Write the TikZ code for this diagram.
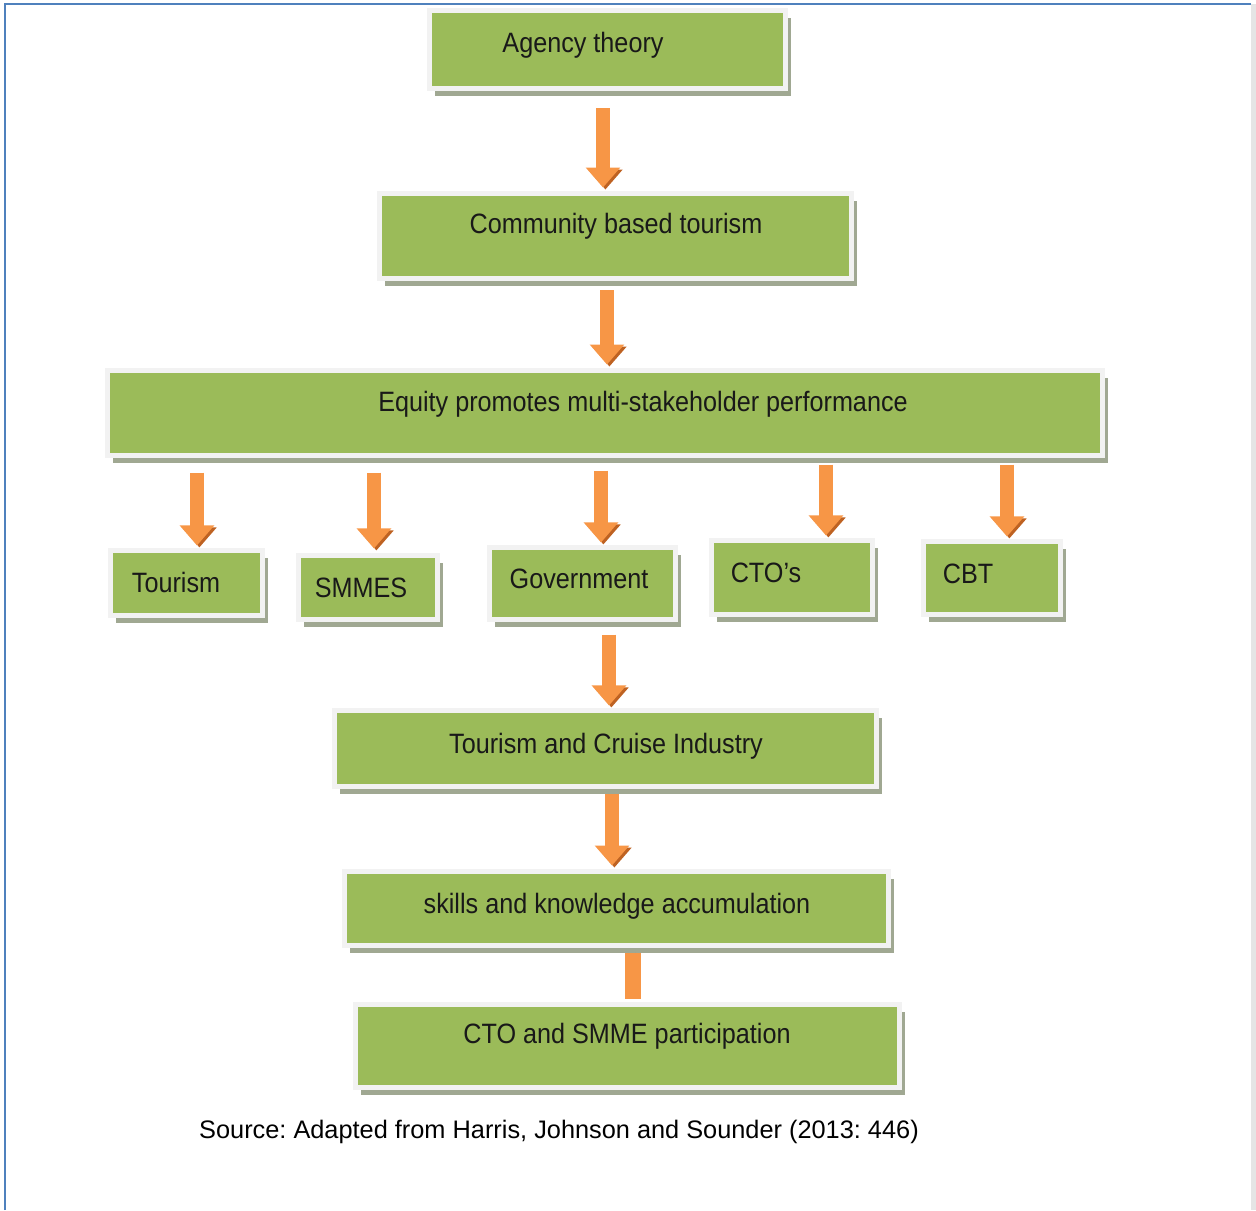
\documentclass[tikz,border=0pt]{standalone}
\usepackage{fontspec}
\setmainfont{Liberation Sans}
\newfontfamily\boxfont[FakeStretch=0.9]{Liberation Sans}
\usetikzlibrary{arrows.meta,shadows}
\frenchspacing

\definecolor{boxgreen}{RGB}{155,187,89}
\definecolor{boxrim}{RGB}{242,242,242}
\definecolor{boxshade}{RGB}{160,168,146}
\definecolor{arroworange}{RGB}{247,150,70}
\definecolor{arrowshade}{RGB}{190,98,34}
\definecolor{frameblue}{RGB}{79,129,189}

\tikzset{every picture/.style={line width=0.75pt}}
\tikzset{
  box/.style={draw=boxrim, fill=boxgreen, line width=3.75pt, inner sep=0pt,
    drop shadow={shadow xshift=4pt, shadow yshift=-5.5pt, fill=boxshade, opacity=1}},
  boxsize/.style 2 args={minimum width=#1*0.75pt, minimum height=#2*0.75pt},
  boxtext/.style={anchor=base, inner sep=0.75pt, font=\boxfont\fontsize{21pt}{25pt}\selectfont, text=black!90},
  flowarrow/.style={draw=arroworange, line width=11pt, shorten >=1.9pt,
    -{Triangle[width=25pt,length=15pt]},
    preaction={draw=arrowshade, transform canvas={xshift=1.8pt,yshift=-1.5pt}}},
  flowbar/.style={draw=arroworange, line width=12pt,
    preaction={draw=arrowshade, transform canvas={xshift=1.8pt}}},
}

\begin{document}
\begin{tikzpicture}[x=0.75pt,y=0.75pt,yscale=-1,xscale=1]
\useasboundingbox (0,0) rectangle (1256,1210);

%Frame
\fill [gray!20] (1251,4) rectangle (1256,1210);
\draw [frameblue, line width=1.5pt] (5,1210) -- (5,4) -- (1251,4);

%Boxes
\node [box, boxsize={356}{78}] (agency) at (607.5,49.5) {};
\node [box, boxsize={472}{85}] (community) at (615.5,236) {};
\node [box, boxsize={995}{85}] (equity) at (605,413) {};
\node [box, boxsize={152}{65}] (tourism) at (186.5,583) {};
\node [box, boxsize={139}{64}] (smmes) at (368,587.5) {};
\node [box, boxsize={186}{72}] (government) at (582.5,583.5) {};
\node [box, boxsize={161}{74}] (ctos) at (792,577.5) {};
\node [box, boxsize={137}{73}] (cbt) at (992,578) {};
\node [box, boxsize={542}{76}] (cruise) at (605.5,748.5) {};
\node [box, boxsize={544}{74}] (skills) at (616.5,908.5) {};
\node [box, boxsize={544}{83}] (participation) at (627.5,1046) {};

%Arrows
\draw [flowarrow, shorten <=13.1pt, shorten >=2.6pt] (agency.south -| 603,0) -- (community.north -| 603,0);
\draw [flowarrow, shorten <=7.1pt, shorten >=2.6pt] (community.south -| 607,0) -- (equity.north -| 607,0);
\draw [flowarrow, shorten <=10.9pt] (equity.south -| 197,0) -- (tourism.north -| 197,0);
\draw [flowarrow, shorten <=10.9pt, shorten >=3.4pt] (equity.south -| 374,0) -- (smmes.north -| 374,0);
\draw [flowarrow, shorten <=9.4pt] (equity.south -| 601,0) -- (government.north -| 601,0);
\draw [flowarrow, shorten <=4.9pt] (equity.south -| 826,0) -- (ctos.north -| 826,0);
\draw [flowarrow, shorten <=4.9pt] (equity.south -| 1007,0) -- (cbt.north -| 1007,0);
\draw [flowarrow, shorten <=9.4pt] (government.south -| 609,0) -- (cruise.north -| 609,0);
\draw [flowarrow, shorten <=4.1pt, shorten >=2.6pt] (cruise.south -| 612,0) -- (skills.north -| 612,0);
\draw [flowbar, shorten <=3.4pt, shorten >=2.6pt] (skills.south -| 633,0) -- (participation.north -| 633,0);

% Text Node
\node [boxtext] (agency-t) at (583,52) {Agency theory};
% Text Node
\node [boxtext] (community-t) at (616,233) {Community based tourism};
% Text Node
\node [boxtext] (equity-t) at (643,411) {Equity promotes multi-stakeholder performance};
% Text Node
\node [boxtext] (tourism-t) at (176,592) {Tourism};
% Text Node
\node [boxtext] (smmes-t) at (361,597) {SMMES};
% Text Node
\node [boxtext] (government-t) at (579,588) {Government};
% Text Node
\node [boxtext] (ctos-t) at (766,582) {CTO’s};
% Text Node
\node [boxtext] (cbt-t) at (968,583) {CBT};
% Text Node
\node [boxtext] (cruise-t) at (606,753) {Tourism and Cruise Industry};
% Text Node
\node [boxtext] (skills-t) at (617,913) {skills and knowledge accumulation};
% Text Node
\node [boxtext] (participation-t) at (627,1043) {CTO and SMME participation};
% Text Node
\node [anchor=base, inner sep=0.75pt, font=\fontsize{19pt}{23pt}\selectfont] (source) at (559,1138) {Source: Adapted from Harris, Johnson and Sounder (2013: 446)};
\end{tikzpicture}
\end{document}
